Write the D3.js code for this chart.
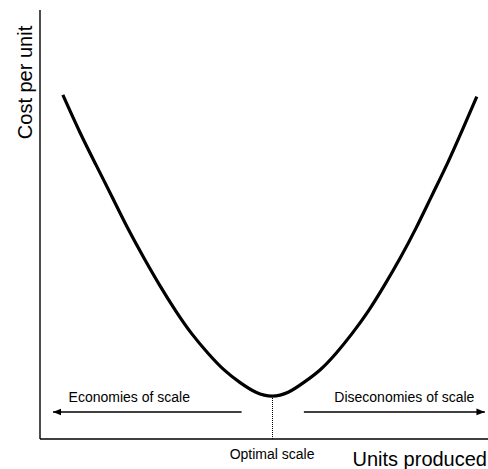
<!DOCTYPE html>
<html>
<head>
<meta charset="utf-8">
<script src="https://cdn.jsdelivr.net/npm/d3@7"></script>
<style>
  body { margin: 0; background: #fff; }
  text { font-family: "Liberation Sans", Arial, sans-serif; fill: #000; }
</style>
</head>
<body>
<div class="visHolder"></div>
<script>
// long-run average cost curve (abstract units 0-100)
var units = [5.1, 8.9, 12.5, 16.1, 19.6, 23.2, 26.8, 30.4, 33.9, 37.5, 41.1, 44.6, 48.2, 51.8,
             55.4, 58.9, 62.5, 66.1, 69.6, 73.2, 76.8, 80.4, 83.9, 87.5, 91.1, 94.6, 97.5];
var cost  = [80.2, 71.5, 63.9, 56.4, 49.1, 42.2, 35.7, 29.7, 24.5, 20.0, 16.1, 13.2, 10.9, 10.0,
             10.9, 13.2, 16.1, 20.0, 24.5, 29.7, 35.7, 42.2, 49.1, 56.8, 64.6, 72.8, 79.8];

var optimalUnits = 51.8;
var arrowLevel = 6.3;
var arrowLabels = ["Economies of scale", "Diseconomies of scale"];
var arrowFrom = [45.0, 58.9];
var arrowTo = [2.9, 99.3];

var width = 488,
  height = 469;

var svg = d3.select(".visHolder").append("svg").attr("width", width).attr("height", height);

var xScale = d3.scaleLinear().domain([0, 100]).range([40, 488]);
var yScale = d3.scaleLinear().domain([0, 100]).range([439, 10]);

var defs = svg.append("defs");
defs.append("marker")
  .attr("id", "head")
  .attr("viewBox", "0 0 10 10")
  .attr("refX", 10)
  .attr("refY", 5)
  .attr("markerWidth", 6)
  .attr("markerHeight", 6)
  .attr("markerUnits", "strokeWidth")
  .attr("orient", "auto")
  .append("path")
  .attr("d", "M0,1 L10,5 L0,9 Z")
  .attr("fill", "#000");

// axes, just the two lines
svg.append("line")
  .attr("x1", xScale(0)).attr("x2", xScale(0))
  .attr("y1", yScale(100)).attr("y2", yScale(0))
  .attr("stroke", "#000").attr("stroke-width", 1.4);
svg.append("line")
  .attr("x1", xScale(0)).attr("x2", xScale(100))
  .attr("y1", yScale(0)).attr("y2", yScale(0))
  .attr("stroke", "#000").attr("stroke-width", 1.4);

svg.append("text")
  .attr("transform", "translate(32," + 82.5 + ") rotate(-90)")
  .attr("text-anchor", "middle")
  .style("font-size", "20px")
  .text("Cost per unit");

svg.append("text")
  .attr("x", 487).attr("y", 466)
  .attr("text-anchor", "end")
  .style("font-size", "20px")
  .text("Units produced");

// dotted drop line at the minimum
var optX = Math.round(xScale(optimalUnits)) + 0.5;
svg.append("line")
  .attr("x1", optX).attr("x2", optX)
  .attr("y1", Math.round(yScale(d3.min(cost))) + 2).attr("y2", yScale(0))
  .attr("stroke", "#000").attr("stroke-width", 1)
  .attr("stroke-dasharray", "1,1")
  .attr("shape-rendering", "crispEdges");

svg.append("text")
  .attr("x", xScale(optimalUnits)).attr("y", 459)
  .attr("text-anchor", "middle")
  .style("font-size", "14px")
  .text("Optimal scale");

var line = d3.line()
  .x(d => xScale(d[0]))
  .y(d => yScale(d[1]))
  .curve(d3.curveNatural);

svg.append("path")
  .datum(d3.zip(units, cost))
  .attr("d", line)
  .attr("fill", "none")
  .attr("stroke", "#000")
  .attr("stroke-width", 3.2);

// scale arrows
arrowLabels.forEach(function (label, i) {
  svg.append("line")
    .attr("x1", xScale(arrowFrom[i])).attr("x2", xScale(arrowTo[i]))
    .attr("y1", yScale(arrowLevel)).attr("y2", yScale(arrowLevel))
    .attr("stroke", "#000").attr("stroke-width", 1.4)
    .attr("marker-end", "url(#head)");
  svg.append("text")
    .attr("x", (xScale(arrowFrom[i]) + xScale(arrowTo[i])) / 2 + (i === 0 ? -18 : 10))
    .attr("y", yScale(arrowLevel) - 10)
    .attr("text-anchor", "middle")
    .style("font-size", "14px")
    .text(label);
});
</script>
</body>
</html>
